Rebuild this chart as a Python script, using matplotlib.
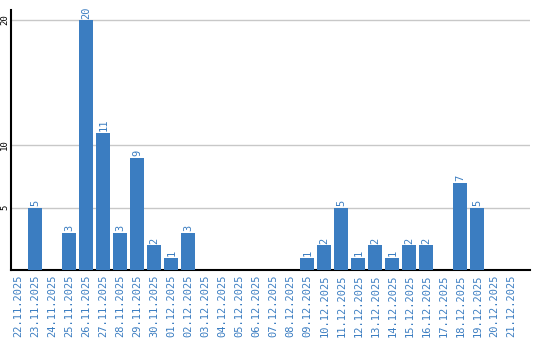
import matplotlib
matplotlib.use("Agg")
import matplotlib.pyplot as plt

dates = ["22.11.2025", "23.11.2025", "24.11.2025", "25.11.2025", "26.11.2025",
         "27.11.2025", "28.11.2025", "29.11.2025", "30.11.2025", "01.12.2025",
         "02.12.2025", "03.12.2025", "04.12.2025", "05.12.2025", "06.12.2025",
         "07.12.2025", "08.12.2025", "09.12.2025", "10.12.2025", "11.12.2025",
         "12.12.2025", "13.12.2025", "14.12.2025", "15.12.2025", "16.12.2025",
         "17.12.2025", "18.12.2025", "19.12.2025", "20.12.2025", "21.12.2025"]
values = [0, 5, 0, 3, 20, 11, 3, 9, 2, 1, 3, 0, 0, 0, 0, 0, 0, 1, 2, 5, 1, 2, 1, 2, 2, 0, 7, 5, 0, 0]
yticks = [5, 10, 20]

blue = "#3b7dc1"
font = "DejaVu Sans Mono"

fig = plt.figure(figsize=(5.4, 3.4), dpi=100)
ax = fig.add_axes([10.5/540, 70/340, 519.5/540, 260/340])
x = list(range(len(dates)))
ax.bar(x, values, width=14/17, color=blue, zorder=3)
for xi, v in zip(x, values):
    if v > 0:
        ax.text(xi, v + 0.1, str(v), rotation=90, ha="center", va="bottom",
                color=blue, fontsize=7.5, family=font, zorder=4)

ax.set_xlim(-0.47, 30.1)
ax.set_ylim(0, 20.8)
ax.set_yticks(yticks)
ax.set_yticklabels([str(t) for t in yticks], rotation=90, va="center",
                   fontsize=6.5, family=font)
ax.set_xticks(x)
ax.set_xticklabels(dates, rotation=90, color=blue, fontsize=7.5, family=font)
ax.tick_params(axis="x", length=0, pad=3)
ax.tick_params(axis="y", length=0, pad=1)
ax.grid(axis="y", color="#c8c8c8", linewidth=1, zorder=0)
for s in ["top", "right"]:
    ax.spines[s].set_visible(False)
for s in ["left", "bottom"]:
    ax.spines[s].set_linewidth(1.5)
    ax.spines[s].set_color("black")

fig.savefig("out.png", dpi=100)
